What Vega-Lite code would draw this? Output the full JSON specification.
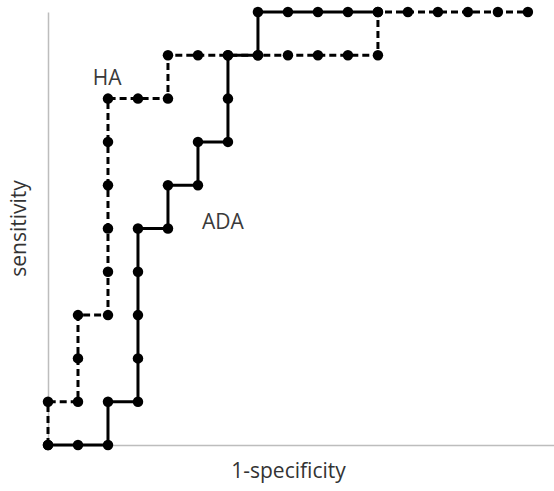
{
  "$schema": "https://vega.github.io/schema/vega-lite/v6.json",
  "autosize": "none",
  "padding": {"left": 48, "top": 12, "right": 0, "bottom": 46},
  "width": 506,
  "height": 433,
  "background": "white",
  "config": {"view": {"stroke": null}, "font": "Open Sans"},
  "datasets": {
    "roc": [
      {"series": "HA", "i": 0, "fpr": 0, "tpr": 0},
      {"series": "HA", "i": 1, "fpr": 0, "tpr": 1},
      {"series": "HA", "i": 2, "fpr": 1, "tpr": 1},
      {"series": "HA", "i": 3, "fpr": 1, "tpr": 2},
      {"series": "HA", "i": 4, "fpr": 1, "tpr": 3},
      {"series": "HA", "i": 5, "fpr": 2, "tpr": 3},
      {"series": "HA", "i": 6, "fpr": 2, "tpr": 4},
      {"series": "HA", "i": 7, "fpr": 2, "tpr": 5},
      {"series": "HA", "i": 8, "fpr": 2, "tpr": 6},
      {"series": "HA", "i": 9, "fpr": 2, "tpr": 7},
      {"series": "HA", "i": 10, "fpr": 2, "tpr": 8},
      {"series": "HA", "i": 11, "fpr": 3, "tpr": 8},
      {"series": "HA", "i": 12, "fpr": 4, "tpr": 8},
      {"series": "HA", "i": 13, "fpr": 4, "tpr": 9},
      {"series": "HA", "i": 14, "fpr": 5, "tpr": 9},
      {"series": "HA", "i": 15, "fpr": 6, "tpr": 9},
      {"series": "HA", "i": 16, "fpr": 7, "tpr": 9},
      {"series": "HA", "i": 17, "fpr": 8, "tpr": 9},
      {"series": "HA", "i": 18, "fpr": 9, "tpr": 9},
      {"series": "HA", "i": 19, "fpr": 10, "tpr": 9},
      {"series": "HA", "i": 20, "fpr": 11, "tpr": 9},
      {"series": "HA", "i": 21, "fpr": 11, "tpr": 10},
      {"series": "HA", "i": 22, "fpr": 12, "tpr": 10},
      {"series": "HA", "i": 23, "fpr": 13, "tpr": 10},
      {"series": "HA", "i": 24, "fpr": 14, "tpr": 10},
      {"series": "HA", "i": 25, "fpr": 15, "tpr": 10},
      {"series": "HA", "i": 26, "fpr": 16, "tpr": 10},
      {"series": "ADA", "i": 0, "fpr": 0, "tpr": 0},
      {"series": "ADA", "i": 1, "fpr": 1, "tpr": 0},
      {"series": "ADA", "i": 2, "fpr": 2, "tpr": 0},
      {"series": "ADA", "i": 3, "fpr": 2, "tpr": 1},
      {"series": "ADA", "i": 4, "fpr": 3, "tpr": 1},
      {"series": "ADA", "i": 5, "fpr": 3, "tpr": 2},
      {"series": "ADA", "i": 6, "fpr": 3, "tpr": 3},
      {"series": "ADA", "i": 7, "fpr": 3, "tpr": 4},
      {"series": "ADA", "i": 8, "fpr": 3, "tpr": 5},
      {"series": "ADA", "i": 9, "fpr": 4, "tpr": 5},
      {"series": "ADA", "i": 10, "fpr": 4, "tpr": 6},
      {"series": "ADA", "i": 11, "fpr": 5, "tpr": 6},
      {"series": "ADA", "i": 12, "fpr": 5, "tpr": 7},
      {"series": "ADA", "i": 13, "fpr": 6, "tpr": 7},
      {"series": "ADA", "i": 14, "fpr": 6, "tpr": 8},
      {"series": "ADA", "i": 15, "fpr": 6, "tpr": 9},
      {"series": "ADA", "i": 16, "fpr": 7, "tpr": 9},
      {"series": "ADA", "i": 17, "fpr": 7, "tpr": 10},
      {"series": "ADA", "i": 18, "fpr": 8, "tpr": 10},
      {"series": "ADA", "i": 19, "fpr": 9, "tpr": 10},
      {"series": "ADA", "i": 20, "fpr": 10, "tpr": 10},
      {"series": "ADA", "i": 21, "fpr": 11, "tpr": 10}
    ],
    "labels": [
      {"label": "HA", "fpr": 1.97, "tpr": 8.45},
      {"label": "ADA", "fpr": 5.83, "tpr": 5.13}
    ]
  },
  "layer": [
    {
      "mark": {"type": "rule", "stroke": "#bdbdbd", "strokeWidth": 1.5},
      "encoding": {"y": {"datum": 10, "type": "quantitative", "scale": {"domain": [0, 10]}}}
    },
    {
      "data": {"name": "roc"},
      "transform": [{"filter": "datum.series === 'HA'"}],
      "mark": {"type": "line", "color": "black", "strokeWidth": 3, "strokeDash": [7, 4], "point": {"filled": true, "size": 110, "color": "black", "opacity": 1}},
      "encoding": {
        "x": {"field": "fpr", "type": "quantitative", "scale": {"domain": [0, 16.87], "nice": false, "zero": false},
          "axis": {"title": "1-specificity", "labels": false, "ticks": false, "grid": false, "domainColor": "#bdbdbd", "domainWidth": 1.5, "titleFontSize": 21, "titleFontWeight": "normal", "titleColor": "#333", "titleX": 240, "titleY": 26, "titleBaseline": "middle", "titleFont": "Open Sans"}},
        "y": {"field": "tpr", "type": "quantitative", "scale": {"domain": [0, 10], "nice": false},
          "axis": {"title": "sensitivity", "labels": false, "ticks": false, "grid": false, "domainColor": "#bdbdbd", "domainWidth": 1.5, "titleFontSize": 21, "titleFontWeight": "normal", "titleColor": "#333", "titleX": -29, "titleY": 216, "titleBaseline": "middle", "titleFont": "Open Sans"}},
        "order": {"field": "i", "type": "quantitative"}
      }
    },
    {
      "data": {"name": "roc"},
      "transform": [{"filter": "datum.series === 'ADA'"}],
      "mark": {"type": "line", "color": "black", "strokeWidth": 3, "point": {"filled": true, "size": 110, "color": "black", "opacity": 1}},
      "encoding": {
        "x": {"field": "fpr", "type": "quantitative"},
        "y": {"field": "tpr", "type": "quantitative"},
        "order": {"field": "i", "type": "quantitative"}
      }
    },
    {
      "data": {"name": "labels"},
      "mark": {"type": "text", "fontSize": 21, "color": "#3a3a3a", "font": "Open Sans", "align": "center", "baseline": "middle"},
      "encoding": {
        "x": {"field": "fpr", "type": "quantitative"},
        "y": {"field": "tpr", "type": "quantitative"},
        "text": {"field": "label"}
      }
    }
  ]
}
